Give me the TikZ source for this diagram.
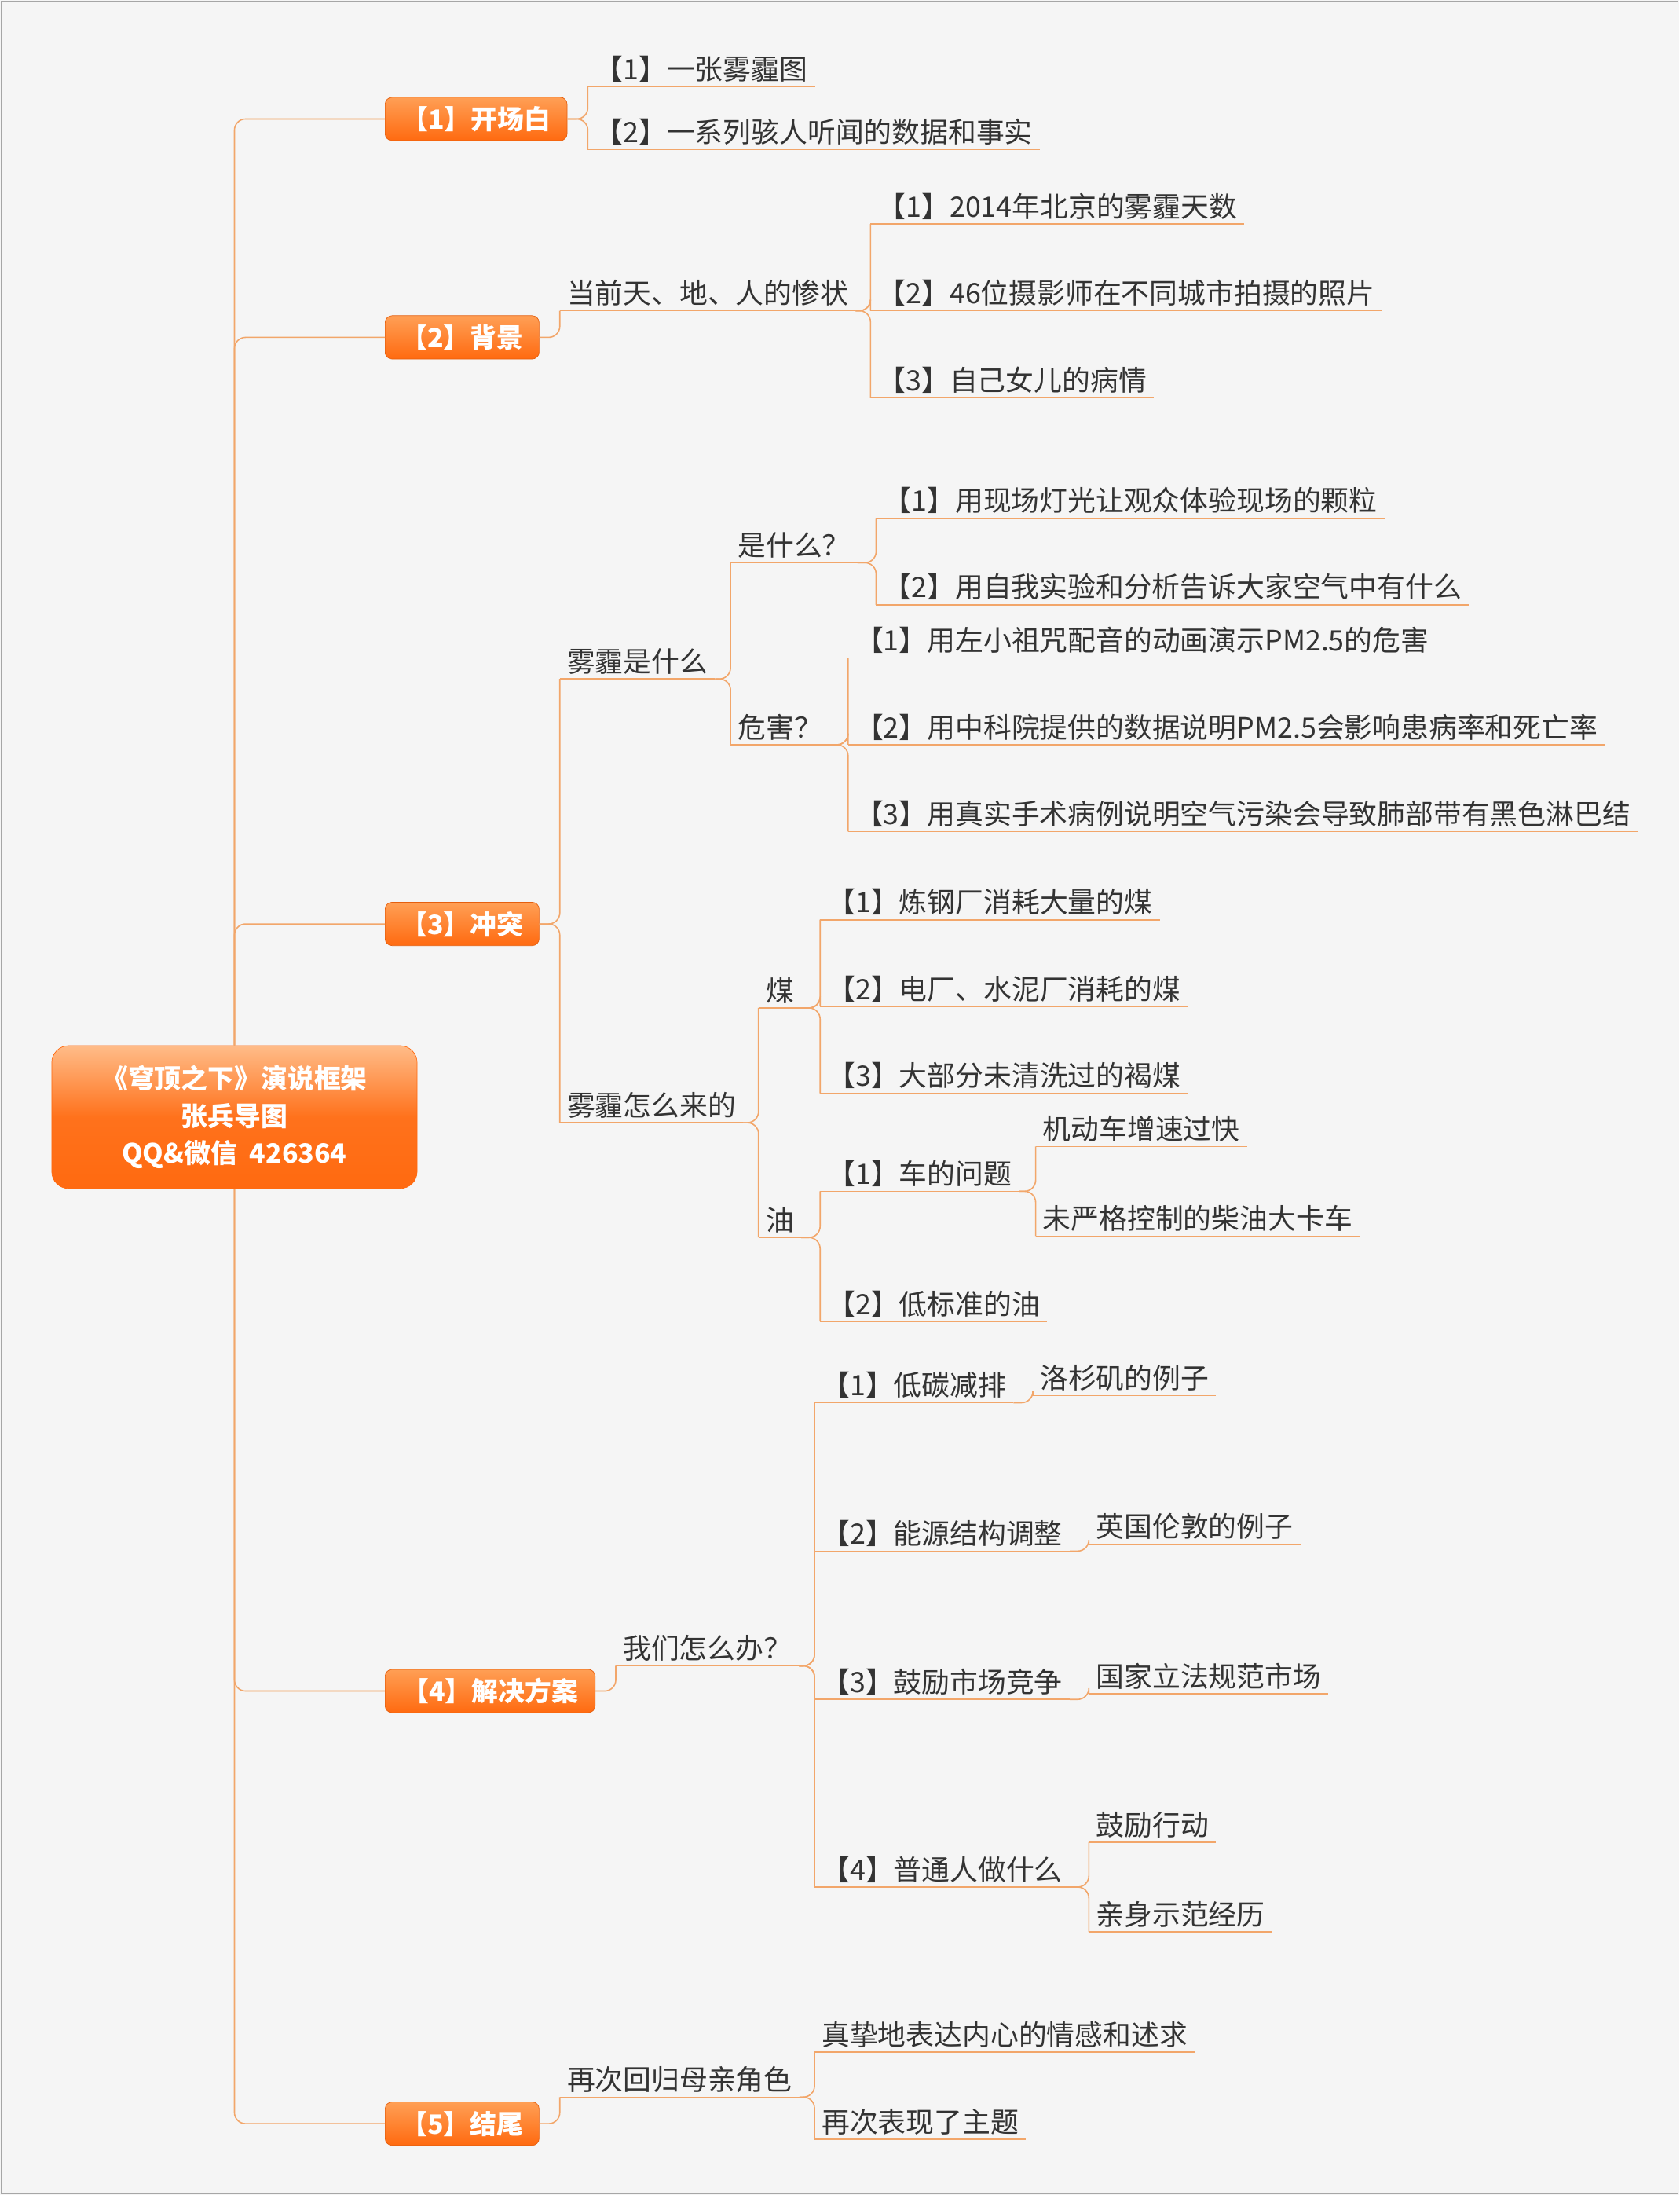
\documentclass[tikz,border=0pt]{standalone}
\usepackage{fontspec}
\setmainfont{Noto Sans CJK SC}
\begin{document}
\begin{tikzpicture}[x=1pt,y=-1pt,
  txt/.style={anchor=south west,inner xsep=5pt,inner ysep=3pt,font=\fontsize{20.1}{23}\selectfont,text=black!80,
    append after command={(\tikzlastnode.south west) edge[draw=lineor,line width=0.9pt] (\tikzlastnode.south east)}},
  boxn/.style={anchor=west,minimum height=31pt,rounded corners=5pt,top color=boxtop,bottom color=boxbot,draw=boxbot!90!black,line width=0.4pt,text=white,font=\fontsize{19}{22}\selectfont\bfseries,inner sep=0pt},
  conn/.style={draw=lineor,line width=0.9pt,rounded corners=8pt}]
\definecolor{lineor}{HTML}{F2A66A}
\definecolor{boxtop}{HTML}{FF9F55}
\definecolor{boxbot}{HTML}{FF6A10}
\useasboundingbox (0,0) rectangle (1200,1568);
\fill[black!4] (0,0) rectangle (1200,1568);
\draw[black!35,line width=1pt] (1,1) rectangle (1199,1567);
\newcommand\cb[2]{\draw[conn] (#1.east) -- (#1.east -| #2.south west) -- (#2.south west);}
\newcommand\ct[2]{\draw[conn] (#1.south east) -- (#1.south east -| #2.south west) -- (#2.south west);}
% root
\node[rounded corners=12pt,top color=boxtop!70!white,bottom color=boxbot,middle color=boxbot!95!white,draw=boxbot,minimum width=261pt,minimum height=102pt,align=center,text=white,font=\fontsize{19}{26.5}\selectfont\bfseries] (root) at (167.5,798) {《穹顶之下》演说框架\\张兵导图\\QQ\&微信\ \ 426364};
\node[boxn,minimum width=130pt] (m1) at (275,85) {【1】开场白};
\node[boxn,minimum width=110pt] (m2) at (275,241) {【2】背景};
\node[boxn,minimum width=110pt] (m3) at (275,660) {【3】冲突};
\node[boxn,minimum width=150pt] (m4) at (275,1208) {【4】解决方案};
\node[boxn,minimum width=110pt] (m5) at (275,1517) {【5】结尾};
\draw[conn] (root.north) -- (root.north |- m1.west) -- (m1.west);
\draw[conn] (root.north) -- (root.north |- m2.west) -- (m2.west);
\draw[conn] (root.north) -- (root.north |- m3.west) -- (m3.west);
\draw[conn] (root.south) -- (root.south |- m4.west) -- (m4.west);
\draw[conn] (root.south) -- (root.south |- m5.west) -- (m5.west);
% [1]
\node[txt] (a1) at (420,62) {【1】一张雾霾图};
\node[txt] (a2) at (420,107) {【2】一系列骇人听闻的数据和事实};
\cb{m1}{a1}\cb{m1}{a2}
% [2]
\node[txt] (b) at (400,222) {当前天、地、人的惨状};
\node[txt] (b1) at (622,160) {【1】2014年北京的雾霾天数};
\node[txt] (b2) at (622,222) {【2】46位摄影师在不同城市拍摄的照片};
\node[txt] (b3) at (622,284) {【3】自己女儿的病情};
\cb{m2}{b}\ct{b}{b1}\ct{b}{b2}\ct{b}{b3}
% [3]
\node[txt] (c1) at (400,485) {雾霾是什么};
\node[txt] (c11) at (522,402) {是什么？};
\node[txt] (c111) at (626,370) {【1】用现场灯光让观众体验现场的颗粒};
\node[txt] (c112) at (626,432) {【2】用自我实验和分析告诉大家空气中有什么};
\node[txt] (c12) at (522,532) {危害？};
\node[txt] (c121) at (606,470) {【1】用左小祖咒配音的动画演示PM2.5的危害};
\node[txt] (c122) at (606,532) {【2】用中科院提供的数据说明PM2.5会影响患病率和死亡率};
\node[txt] (c123) at (606,594) {【3】用真实手术病例说明空气污染会导致肺部带有黑色淋巴结};
\cb{m3}{c1}\ct{c1}{c11}\ct{c1}{c12}
\ct{c11}{c111}\ct{c11}{c112}\ct{c12}{c121}\ct{c12}{c122}\ct{c12}{c123}
\node[txt] (c2) at (400,802) {雾霾怎么来的};
\node[txt] (c21) at (542,720) {煤};
\node[txt] (c211) at (586,657) {【1】炼钢厂消耗大量的煤};
\node[txt] (c212) at (586,719) {【2】电厂、水泥厂消耗的煤};
\node[txt] (c213) at (586,781) {【3】大部分未清洗过的褐煤};
\node[txt] (c22) at (542,884) {油};
\node[txt] (c221) at (586,851) {【1】车的问题};
\node[txt] (c2211) at (740,819) {机动车增速过快};
\node[txt] (c2212) at (740,883) {未严格控制的柴油大卡车};
\node[txt] (c222) at (586,944) {【2】低标准的油};
\cb{m3}{c2}\ct{c2}{c21}\ct{c2}{c22}
\ct{c21}{c211}\ct{c21}{c212}\ct{c21}{c213}
\ct{c22}{c221}\ct{c22}{c222}\ct{c221}{c2211}\ct{c221}{c2212}
% [4]
\node[txt] (d) at (440,1190) {我们怎么办？};
\node[txt] (d1) at (582,1002) {【1】低碳减排};
\node[txt] (d11) at (738,997) {洛杉矶的例子};
\node[txt] (d2) at (582,1108) {【2】能源结构调整};
\node[txt] (d21) at (778,1103) {英国伦敦的例子};
\node[txt] (d3) at (582,1214) {【3】鼓励市场竞争};
\node[txt] (d31) at (778,1210) {国家立法规范市场};
\node[txt] (d4) at (582,1348) {【4】普通人做什么};
\node[txt] (d41) at (778,1316) {鼓励行动};
\node[txt] (d42) at (778,1380) {亲身示范经历};
\cb{m4}{d}\ct{d}{d1}\ct{d}{d2}\ct{d}{d3}\ct{d}{d4}
\ct{d1}{d11}\ct{d2}{d21}\ct{d3}{d31}\ct{d4}{d41}\ct{d4}{d42}
% [5]
\node[txt] (e) at (400,1498) {再次回归母亲角色};
\node[txt] (e1) at (582,1466) {真挚地表达内心的情感和述求};
\node[txt] (e2) at (582,1528) {再次表现了主题};
\cb{m5}{e}\ct{e}{e1}\ct{e}{e2}
\end{tikzpicture}
\end{document}
